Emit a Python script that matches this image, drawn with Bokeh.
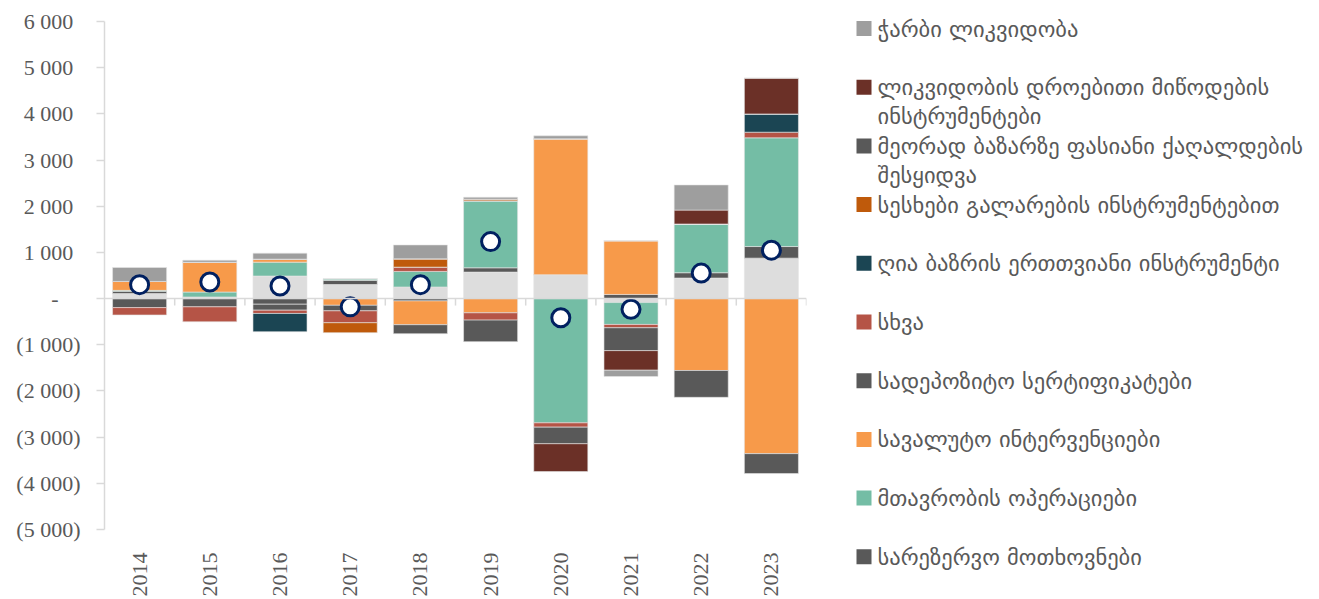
import math
from bokeh.plotting import figure
from bokeh.models import Range1d, FixedTicker, Span, ColumnDataSource
from bokeh.layouts import row
from bokeh.embed import file_html
from bokeh.resources import INLINE
from bokeh.core.properties import value

# ---------------- data ----------------
years = ["2014", "2015", "2016", "2017", "2018", "2019", "2020", "2021", "2022", "2023"]

# series in stacking order (first = closest to zero)
unlabeled_base = [108, 35, 488, 305, 251, 574, 517, -86, 445, 876]
reserve_requirements = [50, 0, -122, 90, -50, 93, 0, 90, 115, 251]
government_operations = [20, 107, 301, 36, 337, 1449, -2691, -474, 1055, 2354]
fx_interventions = [194, 645, 65, -145, -516, -308, 2943, 1163, -1557, -3358]
certificates_of_deposit = [-195, -179, -129, -120, -194, 0, 0, 0, -581, -431]
other = [-160, -323, -71, -258, 93, -158, -93, -72, 0, 122]
one_month_omo = [0, 0, -395, 0, 0, 0, 0, 0, 0, 395]
larization_loans = [0, 0, 0, -215, 180, 36, 0, 0, 0, 0]
secondary_market_purchases = [0, 0, 0, 0, 0, -466, -359, -495, 0, 0]
temporary_liquidity = [0, 0, 0, 0, 0, 0, -603, -424, 301, 775]
excess_liquidity = [301, 43, 130, 0, 301, 43, 65, -136, 545, 0]

net_change = [301, 360, 273, -179, 301, 1234, -415, -230, 553, 1048]

y_ticks = [-5000, -4000, -3000, -2000, -1000, 0, 1000, 2000, 3000, 4000, 5000, 6000]
y_tick_labels = ["(5 000)", "(4 000)", "(3 000)", "(2 000)", "(1 000)", "-",
                 "1 000", "2 000", "3 000", "4 000", "5 000", "6 000"]

legend_labels = [
    "ჭარბი ლიკვიდობა",
    "ლიკვიდობის დროებითი მიწოდების\nინსტრუმენტები",
    "მეორად ბაზარზე ფასიანი ქაღალდების\nშესყიდვა",
    "სესხები გალარების ინსტრუმენტებით",
    "ღია ბაზრის ერთთვიანი ინსტრუმენტი",
    "სხვა",
    "სადეპოზიტო სერტიფიკატები",
    "სავალუტო ინტერვენციები",
    "მთავრობის ოპერაციები",
    "სარეზერვო მოთხოვნები",
]

# ---------------- styles ----------------
C_LIGHT = "#dddddd"
C_DARK = "#595959"
C_EXCESS = "#9e9e9e"
C_TEMP = "#6b3027"
C_LOANS = "#bf5a0b"
C_OMO = "#1b4553"
C_OTHER = "#b55446"
C_FX = "#f79a4a"
C_GOV = "#74bda5"

series = [
    (unlabeled_base, C_LIGHT),
    (reserve_requirements, C_DARK),
    (government_operations, C_GOV),
    (fx_interventions, C_FX),
    (certificates_of_deposit, C_DARK),
    (other, C_OTHER),
    (one_month_omo, C_OMO),
    (larization_loans, C_LOANS),
    (secondary_market_purchases, C_DARK),
    (temporary_liquidity, C_TEMP),
    (excess_liquidity, C_EXCESS),
]
legend_colors = [C_EXCESS, C_TEMP, C_DARK, C_LOANS, C_OMO, C_OTHER, C_DARK, C_FX, C_GOV, C_DARK]

TEXT = "#595959"
AXIS = "#d9d9d9"
SERIF = "Liberation Serif"

W_MAIN, H = 830, 599
B_LEFT, B_RIGHT, B_TOP, B_BOTTOM = 104, 24, 21, 67
frame_h = H - B_TOP - B_BOTTOM

p = figure(width=W_MAIN, height=H, output_backend="svg", toolbar_location=None,
           x_range=Range1d(-0.5, len(years) - 0.5),
           y_range=Range1d(y_ticks[0], y_ticks[-1]),
           min_border_left=B_LEFT, min_border_right=B_RIGHT,
           min_border_top=B_TOP, min_border_bottom=B_BOTTOM)
p.outline_line_color = None
p.grid.visible = False
p.background_fill_color = "white"
p.frame_align = False

xs = list(range(len(years)))
pos_base = [0.0] * len(years)
neg_base = [0.0] * len(years)
for vals, color in series:
    bottoms, tops = [], []
    for i, v in enumerate(vals):
        if v >= 0:
            b = pos_base[i]; t = b + v; pos_base[i] = t
        else:
            b = neg_base[i]; t = b + v; neg_base[i] = t
        bottoms.append(b); tops.append(t)
    src = ColumnDataSource(dict(x=xs, bottom=bottoms, top=tops))
    p.vbar(x="x", bottom="bottom", top="top", width=0.77, source=src,
           fill_color=color, line_color="#e6e6e6", line_width=0.6)

# zero line and category tick marks
p.add_layout(Span(location=0, dimension="width", line_color=AXIS, line_width=1.5))
units_per_px = (y_ticks[-1] - y_ticks[0]) / frame_h
p.segment(x0=[i + 0.5 for i in xs], x1=[i + 0.5 for i in xs],
          y0=[0] * len(xs), y1=[-7 * units_per_px] * len(xs),
          line_color=AXIS, line_width=1.5)

p.scatter(x=xs, y=net_change, size=18, marker="circle", fill_color="white",
          line_color="#002060", line_width=3)

# y axis
ya = p.yaxis[0]
ya.ticker = FixedTicker(ticks=y_ticks)
overrides = {}
for t, lab in zip(y_ticks, y_tick_labels):
    if t > 0:
        overrides[t] = lab + "\u2004"
    elif t == 0:
        overrides[t] = lab + "\u2003"
    else:
        overrides[t] = lab
ya.major_label_overrides = overrides
ya.axis_line_color = AXIS
ya.axis_line_width = 1.5
ya.major_tick_line_color = AXIS
ya.major_tick_line_width = 1.5
ya.major_tick_out = 8
ya.major_tick_in = 0
ya.minor_tick_line_color = None
ya.major_label_standoff = 16
ya.major_label_text_font = SERIF
ya.major_label_text_font_size = "22px"
ya.major_label_text_color = TEXT

# x axis
xa = p.xaxis[0]
xa.ticker = FixedTicker(ticks=xs)
xa.major_label_overrides = {i: y for i, y in enumerate(years)}
xa.axis_line_color = None
xa.major_tick_line_color = None
xa.minor_tick_line_color = None
xa.major_label_orientation = math.pi / 2
xa.major_label_standoff = 17
xa.major_label_text_font = SERIF
xa.major_label_text_font_size = "22px"
xa.major_label_text_color = TEXT

# ---------------- legend panel ----------------
# data coordinates of this panel equal page pixels
W_LEG = 1319 - W_MAIN
lg = figure(width=W_LEG, height=H, output_backend="svg", toolbar_location=None,
            x_range=Range1d(W_MAIN, 1319), y_range=Range1d(H, 0),
            x_axis_location=None, y_axis_location=None, min_border=0)
lg.outline_line_color = None
lg.grid.visible = False
lg.frame_align = False

first_y = 28
step = 58.7
line_gap = 29
sq_x, sq_size, txt_x = 863.5, 15, 877
tx, ty, tt = [], [], []
sy = []
for k, lab in enumerate(legend_labels):
    yc = first_y + k * step
    sy.append(yc)
    for j, part in enumerate(lab.split("\n")):
        tx.append(txt_x); ty.append(yc + j * line_gap); tt.append(part)
lg.rect(x=[sq_x] * len(sy), y=sy, width=sq_size, height=sq_size,
        fill_color=legend_colors, line_color=None)
lg.text(x=tx, y=ty, text=tt, text_font=value("DejaVu Sans"), text_font_size="22.5px",
        text_color=TEXT, text_baseline="middle", text_align="left")

layout = row(p, lg)
open("out.html", "w").write(file_html(layout, INLINE))
